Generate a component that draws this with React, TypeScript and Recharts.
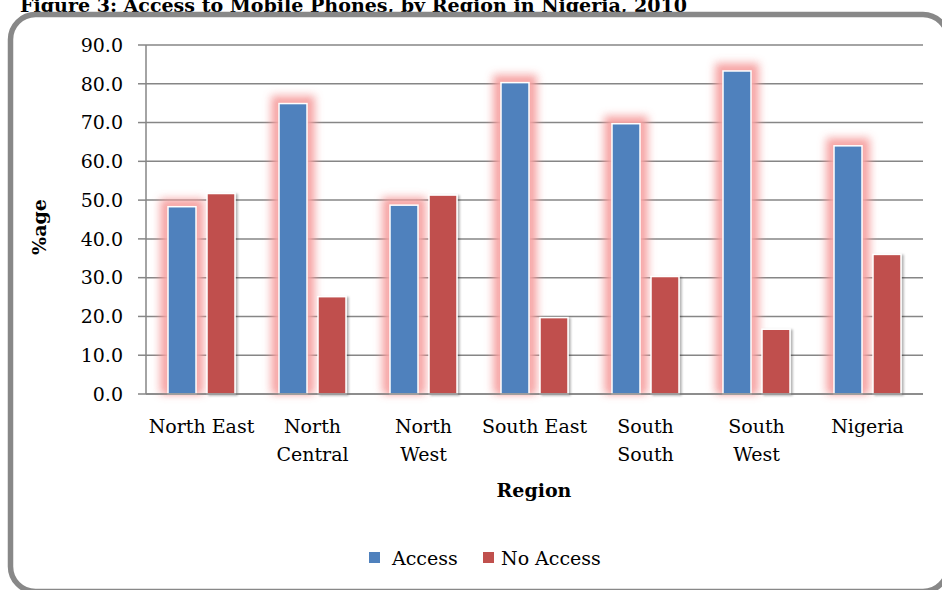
import { BarChart, Bar, XAxis, YAxis, CartesianGrid, Label } from 'recharts';

// values (percent of households)
const regions = ['North East', 'North\nCentral', 'North\nWest', 'South East', 'South\nSouth', 'South\nWest', 'Nigeria'];
const access = [48.3, 74.9, 48.7, 80.3, 69.7, 83.3, 64.0];
const noAccess = [51.7, 25.1, 51.3, 19.7, 30.3, 16.7, 36.0];
const percentTicks = [0, 10, 20, 30, 40, 50, 60, 70, 80, 90];
const seriesNames = ['Access', 'No Access'];

const BLUE = '#4f81bd';
const RED = '#c0504d';
const GRID = '#868686';
const FONT = "'DejaVu Serif', serif";

const data = regions.map((region, i) => ({
  region,
  access: access[i],
  noAccess: noAccess[i],
}));

// access bars get the pink glow around them
const GlowBar = (props: any) => {
  const { x, y, width, height, fill } = props;
  if (!height || height <= 0) return null;
  return (
    <g>
      <rect x={x - 8} y={y - 8} width={width + 16} height={height + 8} fill="#f59a9a" opacity={0.85} filter="url(#barGlow)" />
      <rect x={x - 3} y={y - 3} width={width + 6} height={height + 3} fill="#f7aaaa" opacity={0.7} filter="url(#barGlowIn)" />
      <rect x={x} y={y} width={width} height={height} fill={fill} stroke="#fff" strokeWidth={1.5} />
    </g>
  );
};

const ShadowBar = (props: any) => {
  const { x, y, width, height, fill } = props;
  if (!height || height <= 0) return null;
  return <rect x={x} y={y} width={width} height={height} fill={fill} stroke="#fff" strokeWidth={1.5} filter="url(#barShadow)" />;
};

const RegionTick = ({ x, y, payload }: any) => {
  const lines = String(payload.value).split('\n');
  return (
    <text x={x} y={y} textAnchor="middle" fontFamily={FONT} fontSize={19} fill="#000">
      {lines.map((l, i) => (
        <tspan key={i} x={x} dy={i === 0 ? 39 : 28}>{l}</tspan>
      ))}
    </text>
  );
};

export default function App() {
  return (
    <div style={{ position: 'fixed', left: 0, top: 0, width: 942, height: 590, background: '#fff', overflow: 'hidden' }}>
      {/* title sits behind the frame, partly cut off at the top */}
      <svg width={942} height={590} style={{ position: 'absolute', left: 0, top: 0 }}>
        <defs>
          <filter id="barGlow" x="-80%" y="-20%" width="260%" height="140%">
            <feGaussianBlur stdDeviation="4.5" />
          </filter>
          <filter id="barGlowIn" x="-60%" y="-20%" width="220%" height="140%">
            <feGaussianBlur stdDeviation="2" />
          </filter>
          <filter id="barShadow" x="-30%" y="-10%" width="160%" height="120%">
            <feDropShadow dx="2" dy="1" stdDeviation="1.2" floodColor="#000" floodOpacity="0.3" />
          </filter>
        </defs>
        <text x={20} y={12} fontFamily={FONT} fontWeight="bold" fontSize={18} textLength={667} lengthAdjust="spacingAndGlyphs" fill="#000">
          Figure 3: Access to Mobile Phones, by Region in Nigeria, 2010
        </text>
      </svg>

      <div style={{ position: 'absolute', left: 0, top: 0 }}>
        <BarChart width={942} height={590} data={data} margin={{ top: 45, right: 19, bottom: 0, left: 0 }} barSize={28} barGap={11}>
          <CartesianGrid vertical={false} stroke={GRID} strokeWidth={1.5} />
          <XAxis
            dataKey="region"
            height={196}
            stroke={GRID}
            strokeWidth={1.5}
            tickLine={false}
            tickSize={0}
            tickMargin={0}
            interval={0}
            tick={<RegionTick />}
          >
            <Label
              content={() => (
                <text x={534} y={497} textAnchor="middle" fontFamily={FONT} fontWeight="bold" fontSize={19} fill="#000">
                  Region
                </text>
              )}
            />
          </XAxis>
          <YAxis
            width={146}
            domain={[0, 90]}
            ticks={percentTicks}
            tickFormatter={(v: number) => v.toFixed(1)}
            stroke={GRID}
            strokeWidth={1.5}
            tickSize={8}
            tickMargin={15}
            tick={{ fontFamily: FONT, fontSize: 19, fill: '#000' }}
          >
            <Label
              content={() => (
                <text x={46} y={227} transform="rotate(-90 46 227)" textAnchor="middle" fontFamily={FONT} fontWeight="bold" fontSize={19} fill="#000">
                  %age
                </text>
              )}
            />
          </YAxis>
          <Bar dataKey="access" name={seriesNames[0]} fill={BLUE} shape={<GlowBar />} isAnimationActive={false} />
          <Bar dataKey="noAccess" name={seriesNames[1]} fill={RED} shape={<ShadowBar />} isAnimationActive={false} />
        </BarChart>
      </div>

      {/* frame and legend */}
      <svg width={942} height={590} style={{ position: 'absolute', left: 0, top: 0, pointerEvents: 'none' }}>
        <rect x={10.5} y={14.5} width={937.5} height={577} rx={25} ry={25} fill="none" stroke="#888" strokeWidth={5.5} />
        <rect x={369} y={552} width={11} height={11} fill={BLUE} />
        <text x={392} y={565} fontFamily={FONT} fontSize={19} fill="#000">{seriesNames[0]}</text>
        <rect x={483} y={552} width={11} height={11} fill={RED} />
        <text x={501} y={565} fontFamily={FONT} fontSize={19} fill="#000">{seriesNames[1]}</text>
      </svg>
    </div>
  );
}
